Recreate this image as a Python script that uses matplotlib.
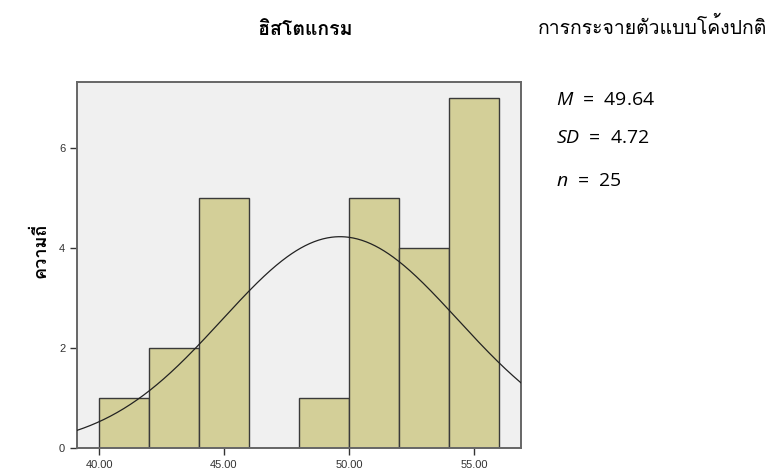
import numpy as np
import matplotlib
matplotlib.use("Agg")
import matplotlib.pyplot as plt
from matplotlib import font_manager as fm
from matplotlib.ft2font import FT2Font

# ---- data ----
bin_edges = [40, 42, 44, 46, 48, 50, 52, 54, 56]
counts = [1, 2, 5, 0, 1, 5, 4, 7]
mean_val = 49.64
sd_val = 4.72
n_val = 25
xticks = [40, 45, 50, 55]
xtick_labels = ["40.00", "45.00", "50.00", "55.00"]
yticks = [0, 2, 4, 6]
title_text = "ฮิสโตแกรม"
ylabel_text = "ความถี่"
curve_label = "การกระจายตัวแบบโค้งปกติ"

# ---- find a font with Thai glyphs ----
thai_font = None
for f in fm.fontManager.ttflist:
    try:
        ft = FT2Font(f.fname)
        cm = ft.get_charmap()
        if 0x0E2E in cm and 0x0E01 in cm:
            thai_font = f.name
            break
    except Exception:
        pass
fam = [thai_font, "DejaVu Sans"] if thai_font else ["DejaVu Sans"]

plt.rcParams["mathtext.fontset"] = "custom"
plt.rcParams["mathtext.it"] = "Open Sans:italic"
plt.rcParams["mathtext.rm"] = "Open Sans"
plt.rcParams["font.family"] = ["Liberation Sans", "DejaVu Sans"]

fig = plt.figure(figsize=(7.73, 4.69), dpi=100)
ax = fig.add_axes([77/773, 21/469, 444/773, 366/469])
ax.set_facecolor("#F0F0F0")

widths = np.diff(bin_edges)
ax.bar(bin_edges[:-1], counts, width=widths, align="edge",
       color="#D3CF98", edgecolor="#3a3a3a", linewidth=1.0, zorder=2)

xlim = (39.12, 56.88)
xs = np.linspace(xlim[0], xlim[1], 400)
scale = n_val * widths[0]
ys = scale / (sd_val * np.sqrt(2 * np.pi)) * np.exp(-0.5 * ((xs - mean_val) / sd_val) ** 2)
ax.plot(xs, ys, color="#222222", linewidth=0.9, zorder=3)

ax.set_xlim(*xlim)
ax.set_ylim(0, 7.32)
ax.set_xticks(xticks)
ax.set_xticklabels(xtick_labels)
ax.set_yticks(yticks)
ax.tick_params(axis="both", labelsize=8, colors="#333333", length=5, width=1.0)
for s in ax.spines.values():
    s.set_color("#666666")
    s.set_linewidth(1.4)

fig.text(305/773, 1 - 30/469, title_text, ha="center", va="center",
         fontsize=14, fontweight="bold", family=fam)
fig.text(653/773, 1 - 27/469, curve_label, ha="center", va="center",
         fontsize=14, family=fam)
fig.text(40/773, 1 - 250/469, ylabel_text, ha="center", va="center",
         rotation=90, fontsize=13, fontweight="bold", family=fam)

stat_font = ["Open Sans", "DejaVu Sans"]
fig.text(556/773, 1 - 100/469, r"$M$" + f"  =  {mean_val:.2f}", ha="left", va="center",
         fontsize=14, family=stat_font)
fig.text(556/773, 1 - 138/469, r"$SD$" + f"  =  {sd_val:.2f}", ha="left", va="center",
         fontsize=14, family=stat_font)
fig.text(556/773, 1 - 181/469, r"$n$" + f"  =  {n_val}", ha="left", va="center",
         fontsize=14, family=stat_font)

fig.savefig("out.png", dpi=100)
